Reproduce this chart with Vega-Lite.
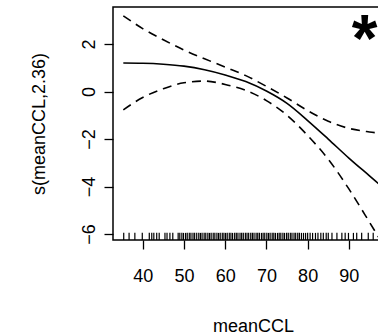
{
  "$schema": "https://vega.github.io/schema/vega-lite/v6.json",
  "width": 280,
  "height": 233,
  "autosize": {"type": "none"},
  "padding": {"left": 113, "top": 7, "right": 0, "bottom": 96},
  "background": "white",
  "config": {
    "view": {"stroke": "black", "strokeWidth": 1.5},
    "font": "Liberation Sans",
    "axis": {
      "grid": false,
      "domain": false,
      "tickColor": "black",
      "tickWidth": 1.3,
      "tickSize": 9,
      "labelColor": "black",
      "labelFontSize": 18,
      "labelFont": "Liberation Sans",
      "titleFont": "Liberation Sans",
      "titleFontSize": 18,
      "titleFontWeight": "normal",
      "titleColor": "black"
    }
  },
  "datasets": {
    "curve": [
      {"meanCCL": 35.3, "fit": 1.20, "upper": 3.19, "lower": -0.77},
      {"meanCCL": 40, "fit": 1.19, "upper": 2.65, "lower": -0.25},
      {"meanCCL": 45, "fit": 1.15, "upper": 2.18, "lower": 0.12},
      {"meanCCL": 50, "fit": 1.07, "upper": 1.75, "lower": 0.37},
      {"meanCCL": 55, "fit": 0.92, "upper": 1.38, "lower": 0.44},
      {"meanCCL": 60, "fit": 0.70, "upper": 1.03, "lower": 0.30},
      {"meanCCL": 65, "fit": 0.42, "upper": 0.67, "lower": 0.05},
      {"meanCCL": 70, "fit": 0.02, "upper": 0.22, "lower": -0.38},
      {"meanCCL": 75, "fit": -0.50, "upper": -0.27, "lower": -1.00},
      {"meanCCL": 80, "fit": -1.22, "upper": -0.80, "lower": -1.85},
      {"meanCCL": 85, "fit": -2.00, "upper": -1.25, "lower": -2.85},
      {"meanCCL": 90, "fit": -2.80, "upper": -1.55, "lower": -4.10},
      {"meanCCL": 95, "fit": -3.55, "upper": -1.70, "lower": -5.50},
      {"meanCCL": 97.8, "fit": -3.97, "upper": -1.76, "lower": -6.30}
    ],
    "rug": [
      {"meanCCL": 35.4}, {"meanCCL": 36.7}, {"meanCCL": 38.1}, {"meanCCL": 39.9}, {"meanCCL": 41.6},
      {"meanCCL": 42.2}, {"meanCCL": 42.7}, {"meanCCL": 43.4}, {"meanCCL": 44.0}, {"meanCCL": 45.4},
      {"meanCCL": 45.9}, {"meanCCL": 46.6}, {"meanCCL": 47.3}, {"meanCCL": 48.6}, {"meanCCL": 49.0},
      {"meanCCL": 49.5}, {"meanCCL": 49.9}, {"meanCCL": 50.4}, {"meanCCL": 50.8}, {"meanCCL": 51.3},
      {"meanCCL": 51.7}, {"meanCCL": 52.2}, {"meanCCL": 52.6}, {"meanCCL": 53.1}, {"meanCCL": 53.6},
      {"meanCCL": 54.0}, {"meanCCL": 54.4}, {"meanCCL": 54.9}, {"meanCCL": 55.3}, {"meanCCL": 55.8},
      {"meanCCL": 56.2}, {"meanCCL": 56.6}, {"meanCCL": 57.1}, {"meanCCL": 57.5}, {"meanCCL": 58.0},
      {"meanCCL": 58.4}, {"meanCCL": 58.8}, {"meanCCL": 59.3}, {"meanCCL": 59.7}, {"meanCCL": 60.1},
      {"meanCCL": 60.5}, {"meanCCL": 61.0}, {"meanCCL": 61.4}, {"meanCCL": 61.8}, {"meanCCL": 62.3},
      {"meanCCL": 62.7}, {"meanCCL": 63.1}, {"meanCCL": 63.6}, {"meanCCL": 64.0}, {"meanCCL": 64.4},
      {"meanCCL": 64.9}, {"meanCCL": 65.3}, {"meanCCL": 65.7}, {"meanCCL": 66.2}, {"meanCCL": 66.6},
      {"meanCCL": 67.0}, {"meanCCL": 67.5}, {"meanCCL": 67.9}, {"meanCCL": 68.3}, {"meanCCL": 68.8},
      {"meanCCL": 69.2}, {"meanCCL": 69.6}, {"meanCCL": 70.1}, {"meanCCL": 70.5}, {"meanCCL": 70.9},
      {"meanCCL": 71.4}, {"meanCCL": 71.8}, {"meanCCL": 72.2}, {"meanCCL": 72.7}, {"meanCCL": 73.1},
      {"meanCCL": 73.5}, {"meanCCL": 74.0}, {"meanCCL": 74.4}, {"meanCCL": 74.9}, {"meanCCL": 75.3},
      {"meanCCL": 75.8}, {"meanCCL": 76.2}, {"meanCCL": 76.7}, {"meanCCL": 77.1}, {"meanCCL": 77.6},
      {"meanCCL": 78.0}, {"meanCCL": 78.5}, {"meanCCL": 79.0}, {"meanCCL": 79.5}, {"meanCCL": 80.0},
      {"meanCCL": 80.6}, {"meanCCL": 81.2}, {"meanCCL": 81.9}, {"meanCCL": 82.5}, {"meanCCL": 83.2},
      {"meanCCL": 83.8}, {"meanCCL": 84.5}, {"meanCCL": 85.0}, {"meanCCL": 85.9}, {"meanCCL": 87.1},
      {"meanCCL": 88.3}, {"meanCCL": 89.1}, {"meanCCL": 89.9}, {"meanCCL": 91.1}, {"meanCCL": 91.9},
      {"meanCCL": 93.1}, {"meanCCL": 94.7}, {"meanCCL": 95.9}, {"meanCCL": 97.8}
    ],
    "mark": [{"label": "*"}]
  },
  "layer": [
    {
      "data": {"name": "rug"},
      "mark": {"type": "rule", "color": "black", "strokeWidth": 1.2},
      "encoding": {
        "x": {"field": "meanCCL", "type": "quantitative"},
        "y": {"datum": -6.25},
        "y2": {"datum": -5.95}
      }
    },
    {
      "data": {"name": "curve"},
      "mark": {"type": "line", "color": "black", "strokeWidth": 1.6, "interpolate": "monotone", "clip": true},
      "encoding": {
        "x": {"field": "meanCCL", "type": "quantitative", "scale": {"domain": [32.8, 100.7], "nice": false, "zero": false},
          "axis": {"values": [40, 50, 60, 70, 80, 90], "labelPadding": 18, "title": "meanCCL", "titlePadding": 32}},
        "y": {"field": "fit", "type": "quantitative", "scale": {"domain": [-6.25, 3.56], "nice": false, "zero": false},
          "axis": {"values": [-6, -4, -2, 0, 2], "labelAngle": -90, "labelPadding": 6, "title": "s(meanCCL,2.36)", "titlePadding": 32}}
      }
    },
    {
      "data": {"name": "curve"},
      "mark": {"type": "line", "color": "black", "strokeWidth": 1.6, "strokeDash": [9, 6], "interpolate": "monotone", "clip": true},
      "encoding": {
        "x": {"field": "meanCCL", "type": "quantitative"},
        "y": {"field": "upper", "type": "quantitative"}
      }
    },
    {
      "data": {"name": "curve"},
      "mark": {"type": "line", "color": "black", "strokeWidth": 1.6, "strokeDash": [9, 6], "interpolate": "monotone", "clip": true},
      "encoding": {
        "x": {"field": "meanCCL", "type": "quantitative"},
        "y": {"field": "lower", "type": "quantitative"}
      }
    },
    {
      "data": {"name": "mark"},
      "mark": {"type": "text", "font": "Liberation Sans", "fontWeight": "bold", "fontSize": 66, "align": "center", "baseline": "alphabetic", "color": "black"},
      "encoding": {
        "x": {"datum": 93.8},
        "y": {"datum": 1.28},
        "text": {"field": "label"}
      }
    }
  ]
}
